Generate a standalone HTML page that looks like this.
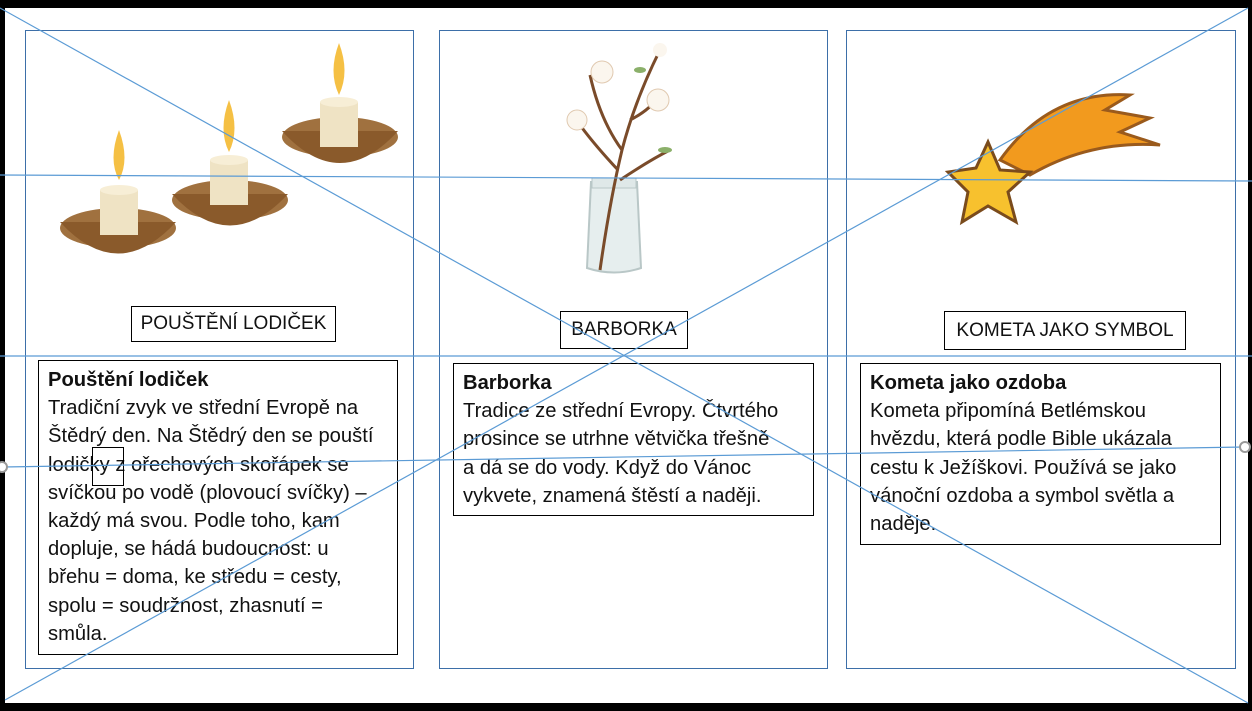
<!DOCTYPE html>
<html><head><meta charset="utf-8"><style>
body{margin:0;width:1252px;height:711px;background:#000;position:relative;overflow:hidden;font-family:"Liberation Sans",sans-serif;}
.page{position:absolute;left:5px;top:8px;width:1243px;height:695px;background:#fff;}
.panel{position:absolute;border:1px solid #3d6fa8;box-sizing:border-box;}
.lbl{position:absolute;border:1px solid #000;box-sizing:border-box;font-size:19px;display:flex;align-items:center;justify-content:center;color:#111;background:#fff;}
.txt{position:absolute;border:1px solid #000;box-sizing:border-box;font-size:20.2px;line-height:28.2px;padding:5px 9px;color:#111;background:#fff;white-space:nowrap;}
.txt b{font-weight:bold;}
svg{position:absolute;left:0;top:0;}
</style></head><body>
<div class="page"></div>
<div class="panel" style="left:25px;top:30px;width:389px;height:639px"></div>
<div class="panel" style="left:439px;top:30px;width:389px;height:639px"></div>
<div class="panel" style="left:846px;top:30px;width:390px;height:639px"></div>

<svg width="1252" height="711">
<g>
 <ellipse cx="118" cy="228" rx="58" ry="20" fill="#a0713f"/><path d="M60 222 Q118 285 176 222 Z" fill="#8a5a2b"/>
 <rect x="100" y="190" width="38" height="45" fill="#efe3c4"/><ellipse cx="119" cy="190" rx="19" ry="5" fill="#f7eed6"/>
 <path d="M119 130 Q108 160 119 180 Q130 160 119 130Z" fill="#f5c044"/>
 <ellipse cx="230" cy="200" rx="58" ry="20" fill="#a0713f"/><path d="M172 194 Q230 257 288 194 Z" fill="#8a5a2b"/>
 <rect x="210" y="160" width="38" height="45" fill="#efe3c4"/><ellipse cx="229" cy="160" rx="19" ry="5" fill="#f7eed6"/>
 <path d="M229 100 Q218 130 229 152 Q240 130 229 100Z" fill="#f5c044"/>
 <ellipse cx="340" cy="137" rx="58" ry="20" fill="#a0713f"/><path d="M282 131 Q340 195 398 131 Z" fill="#8a5a2b"/>
 <rect x="320" y="102" width="38" height="45" fill="#efe3c4"/><ellipse cx="339" cy="102" rx="19" ry="5" fill="#f7eed6"/>
 <path d="M339 43 Q328 72 339 95 Q350 72 339 43Z" fill="#f5c044"/>
</g>
<g>
 <path d="M591 182 L637 182 L641 268 Q614 277 587 268 Z" fill="#e6eeee" stroke="#b9c7c7" stroke-width="2"/>
 <rect x="592" y="178" width="44" height="10" fill="#dfe8e8" stroke="#b9c7c7"/>
 <path d="M600 270 Q610 200 622 150 Q635 100 660 50 M622 150 Q600 120 590 75 M618 170 Q590 140 575 118 M630 120 Q650 110 660 95 M620 180 Q650 160 670 150" stroke="#7a4b2a" stroke-width="3" fill="none"/>
 <circle cx="602" cy="72" r="11" fill="#fbf6ee" stroke="#e0c9b0"/><circle cx="658" cy="100" r="11" fill="#fbf6ee" stroke="#e0c9b0"/><circle cx="577" cy="120" r="10" fill="#fbf6ee" stroke="#e0c9b0"/><circle cx="660" cy="50" r="7" fill="#fbf6ee"/>
 <ellipse cx="640" cy="70" rx="6" ry="3" fill="#8bb06a"/><ellipse cx="665" cy="150" rx="7" ry="3" fill="#8bb06a"/>
</g>
<g>
 <path d="M1000 160 Q1050 90 1130 95 L1105 110 L1150 118 L1120 132 L1160 145 Q1090 140 1030 175 Z" fill="#f29a1e" stroke="#9a5a1c" stroke-width="3"/>
 <path d="M988 142 L1000 170 L1030 172 L1008 192 L1016 222 L988 206 L962 222 L968 192 L948 172 L976 168 Z" fill="#f7c12e" stroke="#7a4b1c" stroke-width="3"/>
</g>
</svg>

<div class="lbl" style="left:131px;top:306px;width:205px;height:36px">POUŠTĚNÍ LODIČEK</div>
<div class="lbl" style="left:560px;top:311px;width:128px;height:38px">BARBORKA</div>
<div class="lbl" style="left:944px;top:311px;width:242px;height:39px">KOMETA JAKO SYMBOL</div>

<div class="txt" style="left:38px;top:360px;width:360px;height:295px"><b>Pouštění lodiček</b><br>Tradiční zvyk ve střední Evropě na<br>Štědrý den. Na Štědrý den se pouští<br>lodičky z ořechových skořápek se<br>svíčkou po vodě (plovoucí svíčky) –<br>každý má svou. Podle toho, kam<br>dopluje, se hádá budoucnost: u<br>břehu = doma, ke středu = cesty,<br>spolu = soudržnost, zhasnutí =<br>smůla.</div>
<div class="txt" style="left:453px;top:363px;width:361px;height:153px"><b>Barborka</b><br>Tradice ze střední Evropy. Čtvrtého<br>prosince se utrhne větvička třešně<br>a dá se do vody. Když do Vánoc<br>vykvete, znamená štěstí a naději.</div>
<div class="txt" style="left:860px;top:363px;width:361px;height:182px"><b>Kometa jako ozdoba</b><br>Kometa připomíná Betlémskou<br>hvězdu, která podle Bible ukázala<br>cestu k Ježíškovi. Používá se jako<br>vánoční ozdoba a symbol světla a<br>naděje.</div>
<div style="position:absolute;left:92px;top:447px;width:32px;height:39px;border:1px solid #000;box-sizing:border-box"></div>

<svg width="1252" height="711">
 <g stroke="#5b9bd5" stroke-width="1.2" fill="none">
  <line x1="0" y1="8" x2="1248" y2="703"/>
  <line x1="5" y1="700" x2="1248" y2="8"/>
  <line x1="0" y1="175" x2="1252" y2="181"/>
  <line x1="0" y1="356" x2="1252" y2="356"/>
  <line x1="3" y1="467" x2="1245" y2="447"/>
 </g>
 <circle cx="2" cy="467" r="5" fill="#fff" stroke="#999" stroke-width="2"/>
 <circle cx="1245" cy="447" r="5" fill="#fff" stroke="#999" stroke-width="2"/>
</svg>
</body></html>
